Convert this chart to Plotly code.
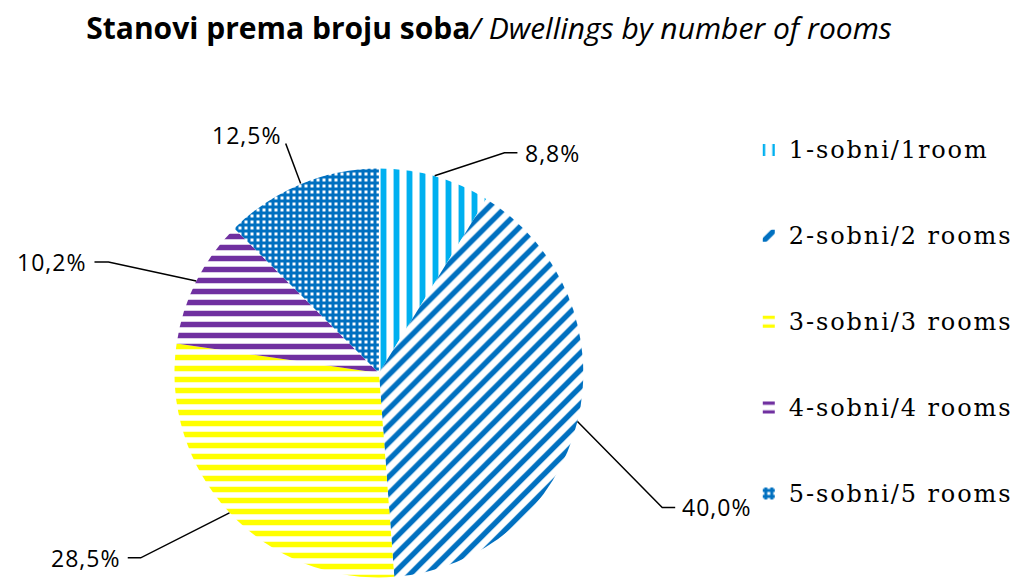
import math
import plotly.graph_objects as go

categories = ["1-sobni/1room", "2-sobni/2 rooms", "3-sobni/3 rooms", "4-sobni/4 rooms", "5-sobni/5 rooms"]
values = [8.8, 40.0, 28.5, 10.2, 12.5]
colors = ["#00B0F0", "#0070C0", "#FFFF00", "#7030A0", "#0070C0"]
shapes = ["|", "/", "-", "-", "+"]
sizes = [13, 12, 11, 11, 6]
solids = [0.45, 0.45, 0.5, 0.5, 0.75]

W, H = 1018, 578
CX, CY, R = 380, 373, 205  # pie centre / radius in pixels

legend_labels = [
    '<span style="font-size:14px"> </span><br><span style="font-size:24px;letter-spacing:1.9px">'
    + c + '</span><br><span style="font-size:14px"> </span>'
    for c in categories
]

fig = go.Figure()
fig.add_trace(go.Pie(
    labels=legend_labels,
    values=values,
    sort=False,
    direction="clockwise",
    rotation=0,
    textinfo="none",
    hoverinfo="skip",
    marker=dict(
        colors=["white"] * len(values),
        line=dict(width=0),
        pattern=dict(shape=shapes, fgcolor=colors, bgcolor="white", fgopacity=1,
                     size=sizes, solidity=solids, fillmode="overlay"),
    ),
    domain=dict(x=[(CX - R) / W, (CX + R) / W], y=[(H - CY - R) / H, (H - CY + R) / H]),
))

# leader-line styling per label: elbow offset from slice edge, horizontal run, text anchor
elbows = [(70, -23), (85, 86), (-89, 45), (-88, -19), (-15, -40)]
runs = [13, 13, -13, -14, 0]
text_off = [(6, 0, "left", "middle"), (5, 0, "left", "middle"), (-6, 0, "right", "middle"),
            (-7, 0, "right", "middle"), (-3, -9, "right", "middle")]

def to_paper(px, py):
    return px / W, 1 - py / H

total = sum(values)
cum = 0.0
annotations = []
line_shapes = []
for v, (ex, ey), run, (tx, ty, xa, ya) in zip(values, elbows, runs, text_off):
    mid = (cum + v / 2) / total * 2 * math.pi
    cum += v
    px = CX + R * math.sin(mid)
    py = CY - R * math.cos(mid)
    p0 = to_paper(px, py)
    p1 = to_paper(px + ex, py + ey)
    p2 = to_paper(px + ex + run, py + ey)
    line_shapes.append(dict(
        type="path", xref="paper", yref="paper",
        path=f"M {p0[0]},{p0[1]} L {p1[0]},{p1[1]} L {p2[0]},{p2[1]}",
        line=dict(color="black", width=1.5),
    ))
    pt = to_paper(px + ex + run + tx, py + ey + ty)
    label = f"{v:.1f}".replace(".", ",") + "%"
    annotations.append(dict(
        x=pt[0], y=pt[1], xref="paper", yref="paper",
        xanchor=xa, yanchor=ya, showarrow=False,
        text='<span style="letter-spacing:1px">' + label + '</span>',
        font=dict(family="Open Sans", size=23, color="#000000"),
    ))

fig.update_layout(
    width=W, height=H,
    margin=dict(l=0, r=0, t=0, b=0),
    paper_bgcolor="white", plot_bgcolor="white",
    title=dict(
        text="<b>Stanovi prema broju soba</b><i>/ Dwellings by number of rooms</i>",
        x=489 / W, xanchor="center", y=1 - 28 / H, yanchor="middle",
        font=dict(family="Open Sans", size=30, color="#000000"),
    ),
    legend=dict(
        x=751 / W, xanchor="left", y=1 - 102 / H, yanchor="top",
        font=dict(family="DejaVu Serif", size=21.25, color="#000000"),
        bgcolor="rgba(0,0,0,0)",
    ),
    annotations=annotations,
    shapes=line_shapes,
)

fig.write_html("out.html")
